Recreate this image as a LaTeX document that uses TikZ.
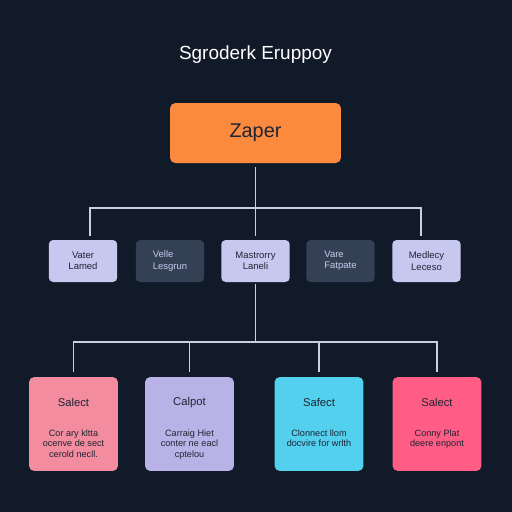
\documentclass[tikz,border=0pt]{standalone}
\usepackage{fontspec}
\setmainfont{Liberation Sans}
\definecolor{bgnavy}{HTML}{111A29}
\definecolor{wire}{HTML}{C9D1DD}
\definecolor{zorange}{HTML}{FB8A3F}
\definecolor{lilac}{HTML}{C7C8EF}
\definecolor{slate}{HTML}{344155}
\definecolor{rosebox}{HTML}{F28C9E}
\definecolor{lavbox}{HTML}{B9B2E6}
\definecolor{cyanbox}{HTML}{52D0EE}
\definecolor{redbox}{HTML}{FF5C86}
\definecolor{ink}{HTML}{1E2433}

\begin{document}
\begin{tikzpicture}[x=0.02cm,y=-0.02cm,
  wirel/.style={draw=wire,line width=0.9pt},
  midbox/.style={rounded corners=2.5pt,minimum width=1.37cm,minimum height=0.84cm,
    font=\fontsize{5.4}{6.4}\selectfont},
  lightbox/.style={midbox,fill=lilac,text=ink,align=center},
  darkbox/.style={midbox,fill=slate,text=lilac,align=left},
  leafbox/.style={rounded corners=3pt,minimum width=1.78cm,minimum height=1.88cm},
  leaftitle/.style={anchor=center,text=ink,font=\fontsize{6.4}{7}\selectfont},
  leafbody/.style={anchor=north,align=center,text=ink,font=\fontsize{5.2}{6.1}\selectfont}]
\fill[bgnavy] (0,0) rectangle (512,512);
\node[text=white,font=\fontsize{10.8}{12}\selectfont] (title) at (255.5,55) {Sgroderk Eruppoy};
\node[fill=zorange,rounded corners=3pt,minimum width=3.42cm,minimum height=1.2cm,
  text=ink,font=\fontsize{11.3}{13}\selectfont] (zap) at (255.5,133) {Zaper};

\node[lightbox] (m1) at (83,261) {Vater\\Lamed};
\node[darkbox]  (m2) at (170,261) {Velle\\Lesgrun};
\node[lightbox] (m3) at (255.5,261) {Mastrorry\\Laneli};
\node[darkbox]  (m4) at (340.5,261) {Vare\\Fatpate};
\node[lightbox] (m5) at (426.5,261) {Medlecy\\Leceso};

\node[leafbox,fill=rosebox] (b1) at (73.5,424) {};
\node[leafbox,fill=lavbox]  (b2) at (189.5,424) {};
\node[leafbox,fill=cyanbox] (b3) at (319,424) {};
\node[leafbox,fill=redbox]  (b4) at (437,424) {};

\node[leaftitle] (t1) at ([yshift=-14.7pt]b1.north) {Salect};
\node[leaftitle] (t2) at ([yshift=-14.7pt]b2.north) {Calpot};
\node[leaftitle] (t3) at ([yshift=-14.7pt]b3.north) {Safect};
\node[leaftitle] (t4) at ([yshift=-14.7pt]b4.north) {Salect};
\node[leafbody] (d1) at ([yshift=-26.5pt]b1.north) {Cor ary kltta\\ocenve de sect\\cerold necll.};
\node[leafbody] (d2) at ([yshift=-26.5pt]b2.north) {Carraig Hiet\\conter ne eacl\\cptelou};
\node[leafbody] (d3) at ([yshift=-26.5pt]b3.north) {Clonnect llom\\docvire for wrlth};
\node[leafbody] (d4) at ([yshift=-26.5pt]b4.north) {Conny Plat\\deere enpont};

\coordinate (j1) at (255.5,208);
\coordinate (j2) at (255.5,342);
\draw[wirel,shorten <=2pt] (zap) -- (j1);
\draw[wirel,shorten >=1.8pt] (j1) -| ([xshift=0.14cm]m1.north);
\draw[wirel,shorten >=1.8pt] (j1) -- (m3);
\draw[wirel,shorten >=1.8pt] (j1) -| ([xshift=-0.11cm]m5.north);
\draw[wirel,shorten <=1.2pt] (m3) -- (j2);
\foreach \b in {b1,b2,b3,b4}
  \draw[wirel,shorten >=2.8pt] (j2) -| (\b.north);
\end{tikzpicture}
\end{document}
